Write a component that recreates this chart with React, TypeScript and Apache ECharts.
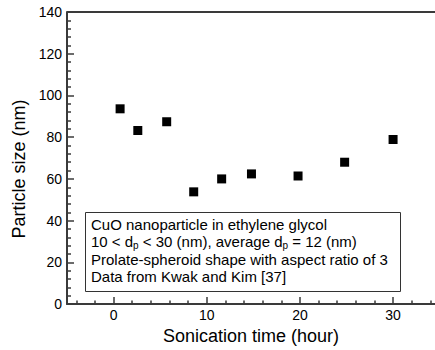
import React, { useEffect, useRef } from "react";
import * as echarts from "echarts";

const sonicationTime = [0.7, 2.6, 5.7, 8.6, 11.6, 14.8, 19.8, 24.8, 30.0];
const particleSize = [93.6, 83.2, 87.4, 53.8, 60.0, 62.4, 61.4, 68.0, 78.9];
const xMajorTicks = [0, 10, 20, 30];
const noteLines = [
  "CuO nanoparticle in ethylene glycol",
  "10 < d{sub|p} < 30 (nm), average d{sub|p} = 12 (nm)",
  "Prolate-spheroid shape with aspect ratio of 3",
  "Data from Kwak and Kim [37]",
];

const FONT = "Liberation Sans";
const AXIS = "#3a3a3a";
const X_MIN = -5;
const X_MAX = 34.5;
const Y_MAX = 140;

export default function App() {
  const ref = useRef<HTMLDivElement>(null);
  useEffect(() => {
    if (!ref.current) return;
    const chart = echarts.init(ref.current, null, { renderer: "svg" });
    const data = sonicationTime.map((t, i) => [t, particleSize[i]]);
    chart.setOption({
      animation: false,
      textStyle: { fontFamily: FONT },
      title: {
        text: noteLines.join("\n"),
        left: 85,
        top: 212,
        padding: [4, 13, 7, 6],
        borderColor: "#333",
        borderWidth: 1,
        backgroundColor: "#fff",
        textStyle: {
          fontSize: 15,
          fontWeight: "normal",
          fontFamily: FONT,
          color: "#000",
          lineHeight: 17.2,
          rich: {
            sub: { fontSize: 10, fontFamily: FONT, color: "#000", padding: [7, 0, 0, 0] },
          },
        },
      },
      grid: { left: 67, top: 12, right: 0, bottom: 42 },
      xAxis: {
        type: "value",
        min: X_MIN,
        max: X_MAX,
        name: "Sonication time (hour)",
        nameLocation: "middle",
        nameGap: 20,
        nameTextStyle: { fontSize: 18, color: "#000", fontFamily: FONT },
        splitLine: { show: false },
        axisLine: { show: true, onZero: false, lineStyle: { color: AXIS, width: 2 } },
        axisTick: {
          show: true,
          inside: true,
          length: 7,
          customValues: xMajorTicks,
          lineStyle: { color: AXIS, width: 1.5 },
        },
        minorTick: { show: true, splitNumber: 5, length: 3.5, lineStyle: { color: AXIS, width: 1.5 } },
        axisLabel: {
          customValues: xMajorTicks,
          color: "#000",
          fontSize: 14,
          fontFamily: FONT,
          margin: 4,
        },
      },
      yAxis: {
        type: "value",
        min: 0,
        max: Y_MAX,
        interval: 20,
        name: "Particle size (nm)",
        nameLocation: "middle",
        nameGap: 34,
        nameTextStyle: { fontSize: 18, color: "#000", fontFamily: FONT, padding: [0, 22, 0, 0] },
        splitLine: { show: false },
        axisLine: { show: true, onZero: false, lineStyle: { color: AXIS, width: 2 } },
        axisTick: { show: true, inside: true, length: 7, lineStyle: { color: AXIS, width: 1.5 } },
        minorTick: { show: true, splitNumber: 5, length: 4, lineStyle: { color: AXIS, width: 1.5 } },
        axisLabel: { color: "#000", fontSize: 14, fontFamily: FONT, margin: 5 },
      },
      series: [
        {
          type: "scatter",
          symbol: "rect",
          symbolSize: 9,
          itemStyle: { color: "#000", opacity: 1 },
          data,
          markLine: {
            silent: true,
            symbol: ["none", "none"],
            label: { show: false },
            lineStyle: { color: AXIS, width: 2, type: "solid" },
            data: [{ yAxis: Y_MAX }],
          },
        },
      ],
    });
    return () => chart.dispose();
  }, []);
  return (
    <div
      ref={ref}
      style={{ position: "fixed", left: 0, top: 0, width: 435, height: 350, background: "#fff" }}
    />
  );
}
